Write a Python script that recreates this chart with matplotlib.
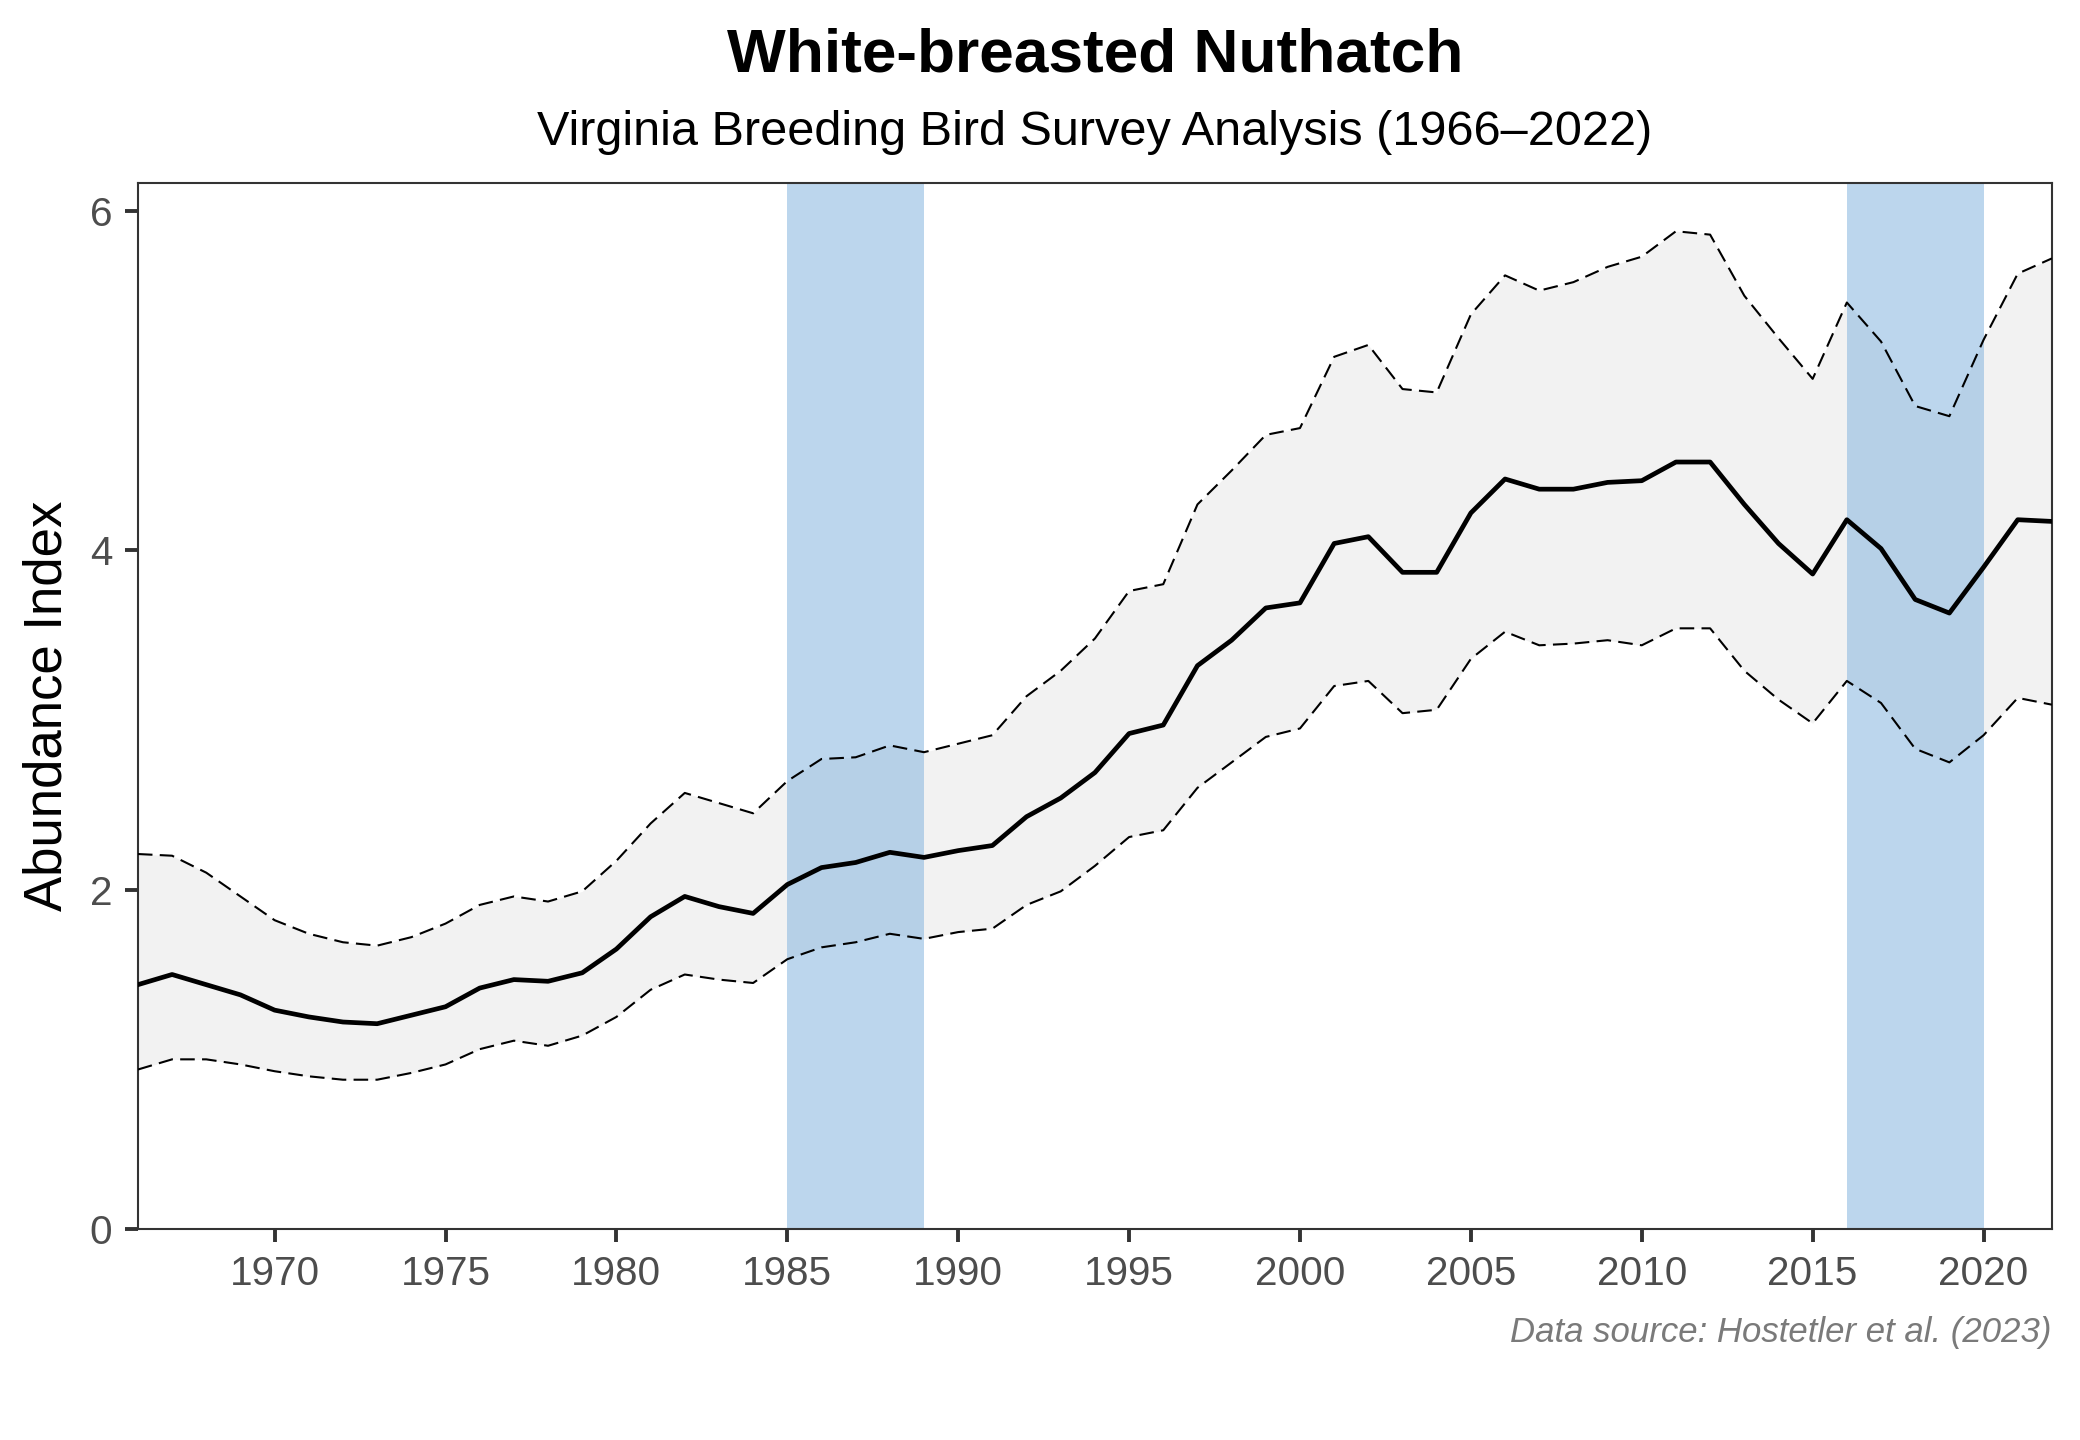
import matplotlib.pyplot as plt
import numpy as np

plt.rcParams['font.family'] = ['Liberation Sans', 'DejaVu Sans']

years = np.arange(1966, 2023)

index = [1.44, 1.50, 1.44, 1.38, 1.29, 1.25, 1.22, 1.21, 1.26, 1.31,
         1.42, 1.47, 1.46, 1.51, 1.65, 1.84, 1.96, 1.90, 1.86, 2.03,
         2.13, 2.16, 2.22, 2.19, 2.23, 2.26, 2.43, 2.54, 2.69, 2.92,
         2.97, 3.32, 3.47, 3.66, 3.69, 4.04, 4.08, 3.87, 3.87, 4.22,
         4.42, 4.36, 4.36, 4.40, 4.41, 4.52, 4.52, 4.27, 4.04, 3.86,
         4.18, 4.01, 3.71, 3.63, 3.90, 4.18, 4.17]

upper = [2.21, 2.20, 2.10, 1.96, 1.82, 1.74, 1.69, 1.67, 1.72, 1.80,
         1.91, 1.96, 1.93, 1.99, 2.17, 2.39, 2.57, 2.51, 2.45, 2.64,
         2.77, 2.78, 2.85, 2.81, 2.86, 2.91, 3.14, 3.29, 3.48, 3.76,
         3.80, 4.27, 4.47, 4.68, 4.72, 5.14, 5.21, 4.95, 4.93, 5.39,
         5.62, 5.53, 5.58, 5.67, 5.73, 5.88, 5.86, 5.50, 5.25, 5.01,
         5.46, 5.23, 4.85, 4.79, 5.24, 5.63, 5.72]

lower = [0.94, 1.00, 1.00, 0.97, 0.93, 0.90, 0.88, 0.88, 0.92, 0.97,
         1.06, 1.11, 1.08, 1.14, 1.25, 1.41, 1.50, 1.47, 1.45, 1.59,
         1.66, 1.69, 1.74, 1.71, 1.75, 1.77, 1.91, 1.99, 2.14, 2.31,
         2.35, 2.60, 2.75, 2.90, 2.95, 3.20, 3.23, 3.04, 3.06, 3.36,
         3.52, 3.44, 3.45, 3.47, 3.44, 3.54, 3.54, 3.29, 3.12, 2.98,
         3.23, 3.10, 2.83, 2.75, 2.91, 3.13, 3.09]

# highlighted periods
bands = [(1985, 1989), (2016, 2020)]

fig = plt.figure(figsize=(10.4, 7.2), dpi=200)
left, right, bottom, top = 0.0663, 0.9865, 0.1465, 0.873
ax = fig.add_axes([left, bottom, right - left, top - bottom])

ax.fill_between(years, lower, upper, color='#f2f2f2', lw=0, zorder=1)
for start, end in bands:
    ax.axvspan(start, end, color='#7bafdd', alpha=0.5, lw=0, zorder=2)
ax.plot(years, upper, color='black', lw=0.75, dashes=(7, 3.5), zorder=3)
ax.plot(years, lower, color='black', lw=0.75, dashes=(7, 3.5), zorder=3)
ax.plot(years, index, color='black', lw=1.7, zorder=4)

ax.set_xlim(1966, 2022)
ax.set_ylim(0, 6.165)
ax.set_xticks(np.arange(1970, 2021, 5))
ax.set_yticks([0, 2, 4, 6])

for s in ax.spines.values():
    s.set_color('#333333')
    s.set_linewidth(0.75)
ax.tick_params(direction='out', length=4.8, width=1.4, color='#333333',
               labelcolor='#4d4d4d', labelsize=14.6, pad=4.5)
ax.set_ylabel('Abundance Index', fontsize=19, labelpad=6)

cx = (left + right) / 2
fig.text(cx, 0.950, 'White-breasted Nuthatch', ha='center', va='baseline',
         fontsize=22.4, fontweight='bold')
fig.text(cx, 0.899, 'Virginia Breeding Bird Survey Analysis (1966\u20132022)',
         ha='center', va='baseline', fontsize=17.5)
fig.text(right, 0.068, 'Data source: Hostetler et al. (2023)', ha='right',
         va='baseline', fontsize=12.5, style='italic', color='#7a7a7a')

fig.savefig('out.png', dpi=200)
